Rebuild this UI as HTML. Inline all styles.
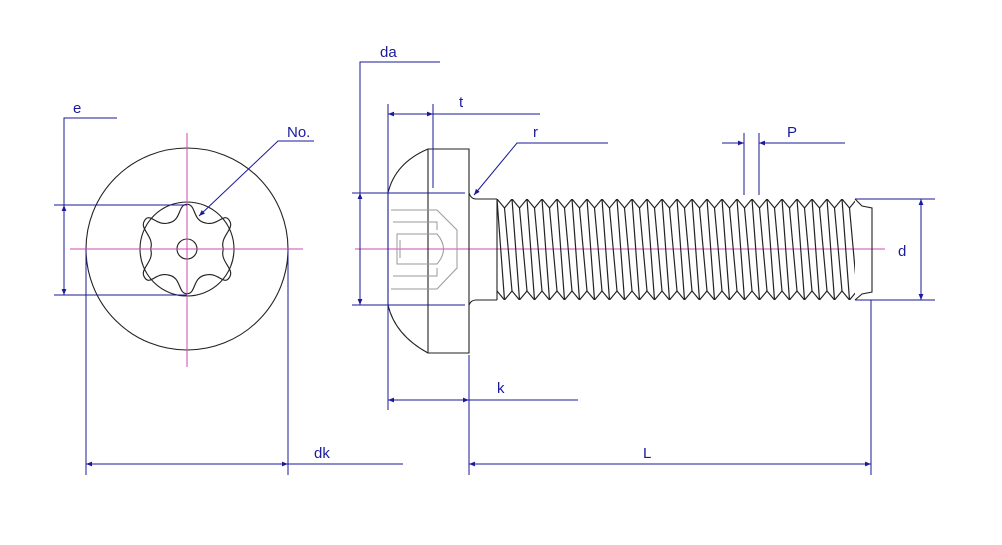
<!DOCTYPE html>
<html><head><meta charset="utf-8"><style>
html,body{margin:0;padding:0;background:#fff}
svg{display:block}
text{font-family:"Liberation Sans",sans-serif;font-size:15px;fill:#1a1a9a}
</style></head><body>
<svg width="1002" height="545" viewBox="0 0 1002 545" xmlns="http://www.w3.org/2000/svg">
<defs>
<marker id="a" viewBox="0 0 10 10" refX="10" refY="5" markerWidth="8" markerHeight="6" orient="auto-start-reverse" markerUnits="userSpaceOnUse"><path d="M0,1L10,5L0,9z" fill="#1a1a9a"/></marker>
<pattern id="th" patternUnits="userSpaceOnUse" x="497" y="199" width="15" height="101">
<g fill="none" stroke="#222" stroke-width="1.2">
<polyline points="0,0 7.5,9 15,0"/>
<polyline points="0,92 7.5,101 15,92"/>
<line x1="0" y1="0" x2="7.5" y2="101"/>
<line x1="15" y1="0" x2="22.5" y2="101"/>
<line x1="-7.5" y1="9" x2="0" y2="92"/>
<line x1="7.5" y1="9" x2="15" y2="92"/>
</g></pattern>
</defs>
<g fill="none" stroke="#222" stroke-width="1.1">
<circle cx="187" cy="249" r="101"/>
<circle cx="187" cy="249" r="47"/>
<circle cx="187" cy="249" r="10"/>
<path transform="translate(187 249) scale(1.04) translate(-187 -249)" d="M187,206 C196,206 192,222 205,224 C217,227 223,213 228,222 C233,230 218,237 222,249 C218,261 233,268 228,276 C223,285 217,271 205,274 C192,276 196,292 187,292 C178,292 182,276 169,274 C157,271 151,285 146,276 C141,268 156,261 152,249 C156,237 141,230 146,222 C151,213 157,227 169,224 C182,222 178,206 187,206Z"/>
</g>
<g stroke="#d04ab0" stroke-width="1">
<line x1="187" y1="133" x2="187" y2="367"/>
<line x1="70" y1="249" x2="303" y2="249"/>
<line x1="355" y1="249" x2="885" y2="249"/>
</g>
<g fill="none" stroke="#222" stroke-width="1.1">
<path d="M428,149 L469,149 L469,353 L428,353 Q395,335 388,305 L388,193 Q395,163 428,149Z"/>
<line x1="428" y1="149" x2="428" y2="353"/>
<path d="M469,193 Q471,199 476,199 L497,199 M469,305 Q471,300 476,300 L497,300"/>
<path d="M497,199 L497,300 M855,199 L862,206 L872,208 L872,292 L862,294 L855,300" />
</g>
<g fill="none" stroke="#999" stroke-width="1">
<path d="M391,210 L437,210 L457,230 L457,268 L437,289 L391,289"/>
<path d="M393,222 L437,222 L437,230 M393,276 L437,276 L437,268 M397,234 L437,234 Q450,249 437,264 L397,264 Z M400,240 L400,258"/>
</g>
<rect x="497" y="199" width="358" height="101" fill="url(#th)"/>
<g fill="none" stroke="#1a1a9a" stroke-width="1">
<path d="M117,118 L64,118 L64,295"/>
<line x1="54" y1="205" x2="187" y2="205"/>
<line x1="54" y1="295" x2="187" y2="295"/>
<line x1="64" y1="205" x2="64" y2="295" marker-start="url(#a)" marker-end="url(#a)"/>
<line x1="86" y1="250" x2="86" y2="475"/>
<line x1="288" y1="250" x2="288" y2="475"/>
<line x1="86" y1="464" x2="288" y2="464" marker-start="url(#a)" marker-end="url(#a)"/>
<line x1="288" y1="464" x2="403" y2="464"/>
<path d="M314,141 L278,141 L199,216" marker-end="url(#a)"/>
<path d="M440,62 L360,62 L360,305"/>
<line x1="352" y1="193" x2="465" y2="193"/>
<line x1="352" y1="305" x2="465" y2="305"/>
<line x1="360" y1="193" x2="360" y2="305" marker-start="url(#a)" marker-end="url(#a)"/>
<line x1="388" y1="104" x2="388" y2="410"/>
<line x1="433" y1="104" x2="433" y2="188"/>
<line x1="388" y1="114" x2="433" y2="114" marker-start="url(#a)" marker-end="url(#a)"/>
<line x1="433" y1="114" x2="540" y2="114"/>
<path d="M608,143 L517,143 L474,195" marker-end="url(#a)"/>
<line x1="469" y1="355" x2="469" y2="475"/>
<line x1="388" y1="400" x2="469" y2="400" marker-start="url(#a)" marker-end="url(#a)"/>
<line x1="469" y1="400" x2="578" y2="400"/>
<line x1="871" y1="300" x2="871" y2="475"/>
<line x1="469" y1="464" x2="871" y2="464" marker-start="url(#a)" marker-end="url(#a)"/>
<line x1="744" y1="133" x2="744" y2="195"/>
<line x1="759" y1="133" x2="759" y2="195"/>
<line x1="722" y1="143" x2="744" y2="143" marker-end="url(#a)"/>
<line x1="845" y1="143" x2="759" y2="143" marker-end="url(#a)"/>
<line x1="855" y1="199" x2="935" y2="199"/>
<line x1="855" y1="300" x2="935" y2="300"/>
<line x1="921" y1="199" x2="921" y2="300" marker-start="url(#a)" marker-end="url(#a)"/>
</g>
<text x="73" y="113">e</text>
<text x="287" y="137">No.</text>
<text x="314" y="458">dk</text>
<text x="380" y="57">da</text>
<text x="459" y="107">t</text>
<text x="533" y="137">r</text>
<text x="497" y="393">k</text>
<text x="643" y="458">L</text>
<text x="787" y="137">P</text>
<text x="898" y="256">d</text>
</svg>
</body></html>
